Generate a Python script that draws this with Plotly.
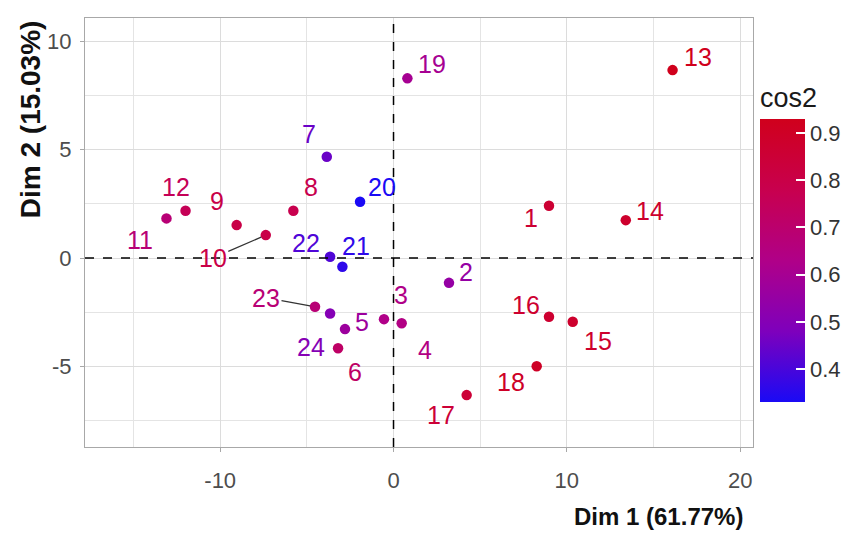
import plotly.graph_objects as go

# ---- data ----
labels = ["1","2","3","4","5","6","7","8","9","10","11","12",
          "13","14","15","16","17","18","19","20","21","22","23","24"]
dim1 = [8.97, 3.2, -0.55, 0.47, -2.8, -3.2, -3.85, -5.78, -9.05, -7.37, -13.1, -12.0,
        16.1, 13.4, 10.34, 8.97, 4.22, 8.26, 0.8, -1.93, -2.95, -3.66, -4.53, -3.66]
dim2 = [2.41, -1.14, -2.81, -3.0, -3.27, -4.15, 4.67, 2.18, 1.52, 1.06, 1.83, 2.18,
        8.66, 1.75, -2.93, -2.7, -6.31, -4.98, 8.28, 2.6, -0.4, 0.06, -2.24, -2.55]
cos2 = [0.86, 0.55, 0.63, 0.64, 0.57, 0.72, 0.45, 0.78, 0.8, 0.8, 0.68, 0.76,
        0.93, 0.88, 0.88, 0.87, 0.85, 0.9, 0.6, 0.33, 0.36, 0.41, 0.68, 0.5]
x_ticks = [-10, 0, 10, 20]
x_ticklabels = ["-10", "0", "10", "20"]
y_ticks = [-5, 0, 5, 10]
y_ticklabels = ["-5", "0", "5", "10"]
cb_ticks = [0.4, 0.5, 0.6, 0.7, 0.8, 0.9]
cb_ticklabels = ["0.4", "0.5", "0.6", "0.7", "0.8", "0.9"]
x_title = "Dim 1 (61.77%)"
y_title = "Dim 2 (15.03%)"
cbar_title = "cos2"

# label offsets in pixels (label centre relative to point), ggrepel-like placement
lab_dx = [-18, 17, 17, 23, 17, 17, -18, 18, -20, -53, -26, -10,
          25, 24, 25, -23, -26, -26, 25, 22, 14, -24, -49, -19]
lab_dy = [12, -11, -24, 27, -7, 24, -23, -24, -24, 23, 22, -24,
          -13, -9, 19, -12, 20, 16, -14, -15, -21, -14, -9, 34]
connector = ["10", "23"]

# colour scale (blue -> purple -> red)
cscale = [[0.0, "#1A0AF5"], [0.25, "#7E00BC"], [0.5, "#B00088"],
          [0.75, "#C8004E"], [1.0, "#D0001C"]]
cmin, cmax = min(cos2), max(cos2)


def hex2rgb(h):
    h = h.lstrip("#")
    return [int(h[i:i + 2], 16) for i in (0, 2, 4)]


def colour_of(v):
    t = (v - cmin) / (cmax - cmin)
    for (t0, c0), (t1, c1) in zip(cscale[:-1], cscale[1:]):
        if t0 <= t <= t1:
            f = (t - t0) / (t1 - t0) if t1 > t0 else 0
            a, b = hex2rgb(c0), hex2rgb(c1)
            r = [round(a[i] + (b[i] - a[i]) * f) for i in range(3)]
            return "rgb({},{},{})".format(*r)
    return cscale[-1][1]


FONT = "Liberation Sans, Arial, sans-serif"

fig = go.Figure()
fig.add_trace(go.Scatter(
    x=dim1, y=dim2, mode="markers", text=labels,
    marker=dict(size=10.5, color=cos2, colorscale=cscale, cmin=cmin, cmax=cmax,
                line=dict(width=0),
                colorbar=dict(
                    title=dict(text=cbar_title, side="top",
                               font=dict(family=FONT, size=27, color="#1a1a1a")),
                    thickness=45, len=318, lenmode="pixels",
                    x=1.0105, xanchor="left", xpad=0,
                    y=0.1049, yanchor="bottom", ypad=0,
                    outlinewidth=0,
                    tickvals=cb_ticks, ticktext=cb_ticklabels,
                    ticks="inside", ticklen=9, tickcolor="white", tickwidth=1.5,
                    tickfont=dict(family=FONT, size=22, color="#333333"),
                )),
    showlegend=False, hoverinfo="text"))

for lab, xv, yv, cv, dx, dy in zip(labels, dim1, dim2, cos2, lab_dx, lab_dy):
    col = colour_of(cv)
    has_line = lab in connector
    fig.add_annotation(
        x=xv, y=yv, text=lab, showarrow=True, ax=dx, ay=dy,
        arrowhead=0, arrowwidth=1.2, standoff=5,
        arrowcolor="#333333" if has_line else "rgba(0,0,0,0)",
        font=dict(family=FONT, size=25, color=col))

# reference lines at 0
fig.add_hline(y=0, line=dict(color="black", width=1.5, dash="dash"))
fig.add_vline(x=0, line=dict(color="black", width=1.5, dash="dash"))

axis_common = dict(
    showline=True, linecolor="#A8A8A8", linewidth=1.2, mirror=True,
    showgrid=True, gridcolor="#DCDCDC", gridwidth=1,
    zeroline=False, ticks="outside", ticklen=4, tickcolor="#A8A8A8",
    tickfont=dict(family=FONT, size=22, color="#4D4D4D"),
)

fig.update_xaxes(range=[-17.8, 20.74], tickvals=x_ticks, ticktext=x_ticklabels,
                 ticklabelstandoff=9,
                 minor=dict(tickvals=[-15, -5, 5, 15], showgrid=True,
                            gridcolor="#E4E4E4", ticks=""),
                 **axis_common)
fig.update_yaxes(range=[-8.7, 11.06], tickvals=y_ticks, ticktext=y_ticklabels,
                 ticklabelstandoff=4,
                 minor=dict(tickvals=[-7.5, -2.5, 2.5, 7.5], showgrid=True,
                            gridcolor="#E4E4E4", ticks=""),
                 **axis_common)

# axis titles (right / top aligned as in reference)
fig.add_annotation(xref="paper", yref="paper", x=0.988, y=-0.161,
                   xanchor="right", yanchor="middle", showarrow=False,
                   text="<b>" + x_title + "</b>",
                   font=dict(family=FONT, size=24, color="#111111"))
fig.add_annotation(xref="paper", yref="paper", x=-0.082, y=1.0,
                   xanchor="center", yanchor="top", showarrow=False,
                   textangle=-90, text="<b>" + y_title + "</b>",
                   font=dict(family=FONT, size=28, color="#111111"))

fig.update_layout(
    width=854, height=534,
    margin=dict(l=85, r=101, t=18, b=87, autoexpand=False),
    plot_bgcolor="white", paper_bgcolor="white",
)

fig.write_html("out.html")
